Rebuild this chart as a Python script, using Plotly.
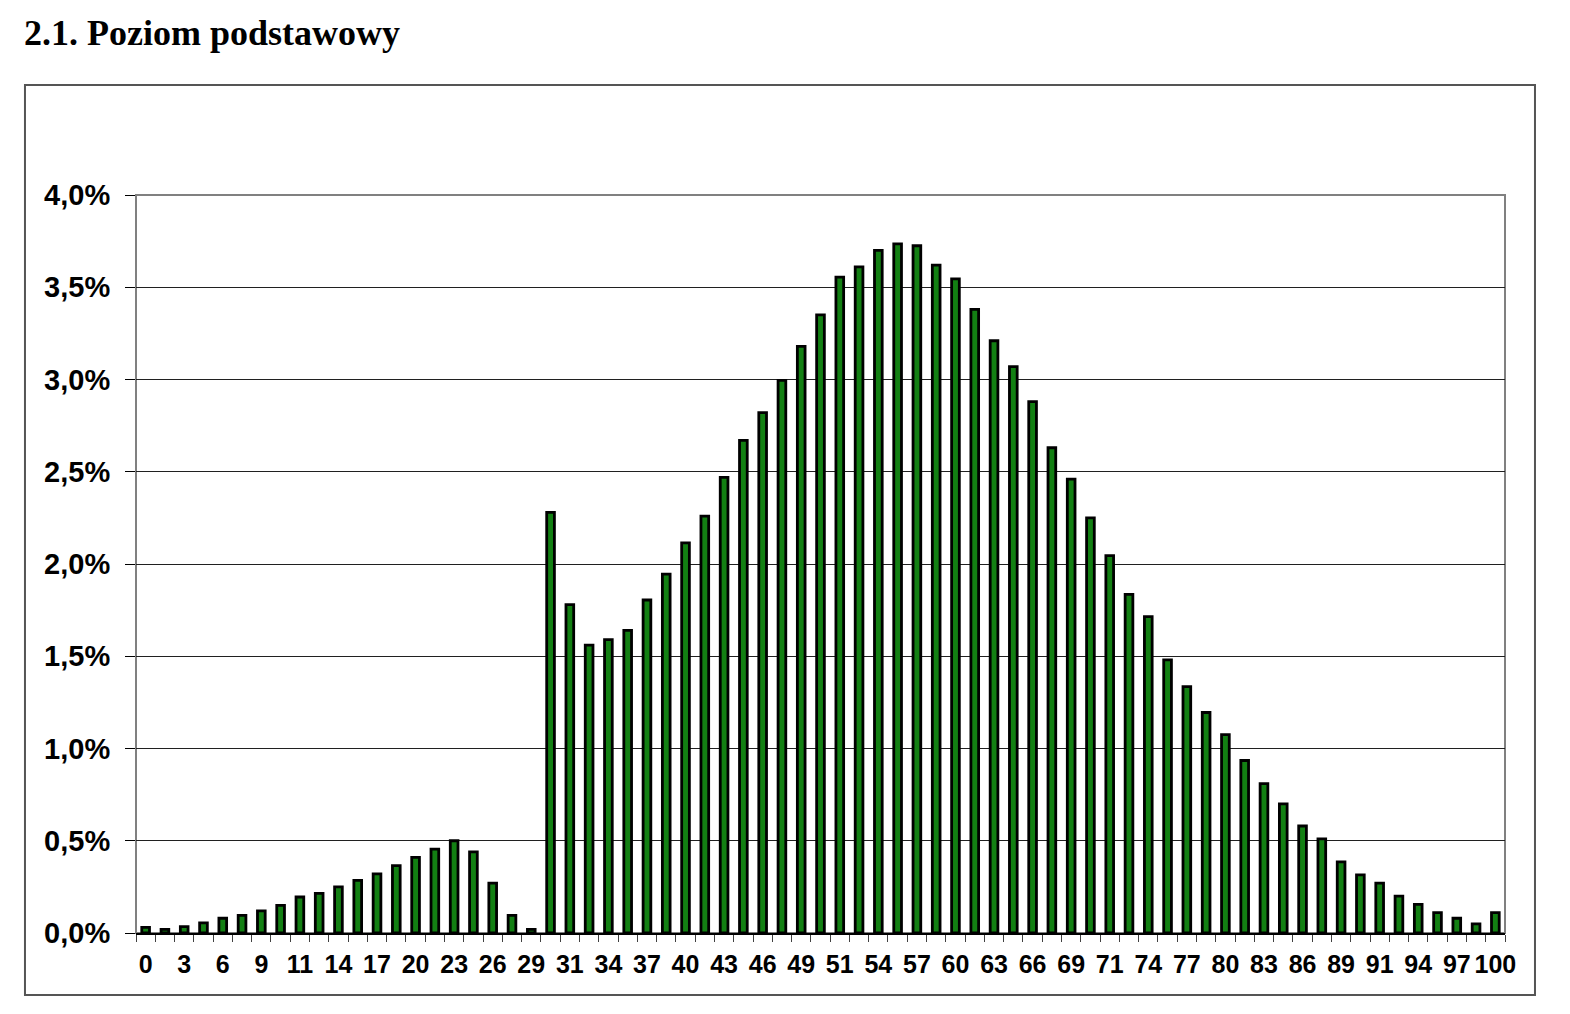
import plotly.graph_objects as go

# score as % of max points (70 points -> 71 categories)
score_labels = ["0", "1", "3", "4", "6", "7", "9", "10", "11", "13",
                "14", "16", "17", "19", "20", "21", "23", "24", "26", "27",
                "29", "30", "31", "33", "34", "36", "37", "39", "40", "41",
                "43", "44", "46", "47", "49", "50", "51", "53", "54", "56",
                "57", "59", "60", "61", "63", "64", "66", "67", "69", "70",
                "71", "73", "74", "76", "77", "79", "80", "81", "83", "84",
                "86", "87", "89", "90", "91", "93", "94", "96", "97", "99",
                "100"]

# share of students (%)
share_pct = [0.03, 0.02, 0.035, 0.055, 0.08, 0.095, 0.12, 0.15, 0.195, 0.215,
             0.25, 0.285, 0.32, 0.365, 0.41, 0.455, 0.50, 0.44, 0.27, 0.095,
             0.02, 2.28, 1.78, 1.56, 1.59, 1.64, 1.805, 1.945, 2.115, 2.26,
             2.47, 2.67, 2.82, 2.995, 3.18, 3.35, 3.555, 3.61, 3.70, 3.735,
             3.725, 3.62, 3.545, 3.38, 3.21, 3.07, 2.88, 2.63, 2.46, 2.25,
             2.045, 1.835, 1.715, 1.48, 1.335, 1.195, 1.075, 0.935, 0.81, 0.70,
             0.58, 0.51, 0.385, 0.315, 0.27, 0.20, 0.155, 0.11, 0.08, 0.05,
             0.11]

y_ticks = [0, 0.5, 1.0, 1.5, 2.0, 2.5, 3.0, 3.5, 4.0]
y_tick_text = ["0,0%", "0,5%", "1,0%", "1,5%", "2,0%", "2,5%", "3,0%", "3,5%", "4,0%"]

# only every second category gets a label, like in the original Excel chart
shown_text = [lab if i % 2 == 0 else "" for i, lab in enumerate(score_labels)]

fig = go.Figure()

fig.add_trace(go.Bar(
    x=score_labels, y=share_pct,
    marker=dict(color="#138013", line=dict(color="#000000", width=2.8)),
    showlegend=False,
))

fig.update_xaxes(
    type="category",
    tickmode="array", tickvals=score_labels, ticktext=shown_text,
    tickson="boundaries", ticks="outside", ticklen=7, tickcolor="#404040",
    tickangle=0,
    tickfont=dict(family="Liberation Sans, Arial", size=25, color="#000000", weight="bold"),
    ticklabelstandoff=8,
    showline=True, linecolor="#000000", linewidth=2,
    showgrid=False, zeroline=False,
)

fig.update_yaxes(
    range=[0, 4.0], tickmode="array", tickvals=y_ticks, ticktext=y_tick_text,
    ticks="outside", ticklen=10, tickcolor="#000000",
    tickfont=dict(family="Liberation Sans, Arial", size=29, color="#000000", weight="bold"),
    ticklabelstandoff=9,
    showgrid=True, gridcolor="#202020", gridwidth=1,
    showline=False, zeroline=False,
)

# grey border around plot area
fig.add_shape(type="rect", xref="paper", yref="paper", x0=0, x1=1, y0=0, y1=1,
              line=dict(color="#808080", width=2), layer="below")
# outer chart frame
fig.add_shape(type="rect", xref="paper", yref="paper", x0=-0.0811, x1=1.0219, y0=-0.084, y1=1.149,
              line=dict(color="#555555", width=2))

fig.add_annotation(
    text="2.1. Poziom podstawowy", xref="paper", yref="paper",
    x=-0.0833, y=1.2195, xanchor="left", yanchor="middle", showarrow=False,
    font=dict(family="Liberation Serif, Times New Roman", size=36, color="#000000", weight="bold"),
)

fig.update_layout(
    width=1554, height=998,
    margin=dict(l=128, r=57, t=187, b=73),
    bargap=0.6,
    plot_bgcolor="#ffffff", paper_bgcolor="#ffffff",
)

fig.write_html("out.html")
